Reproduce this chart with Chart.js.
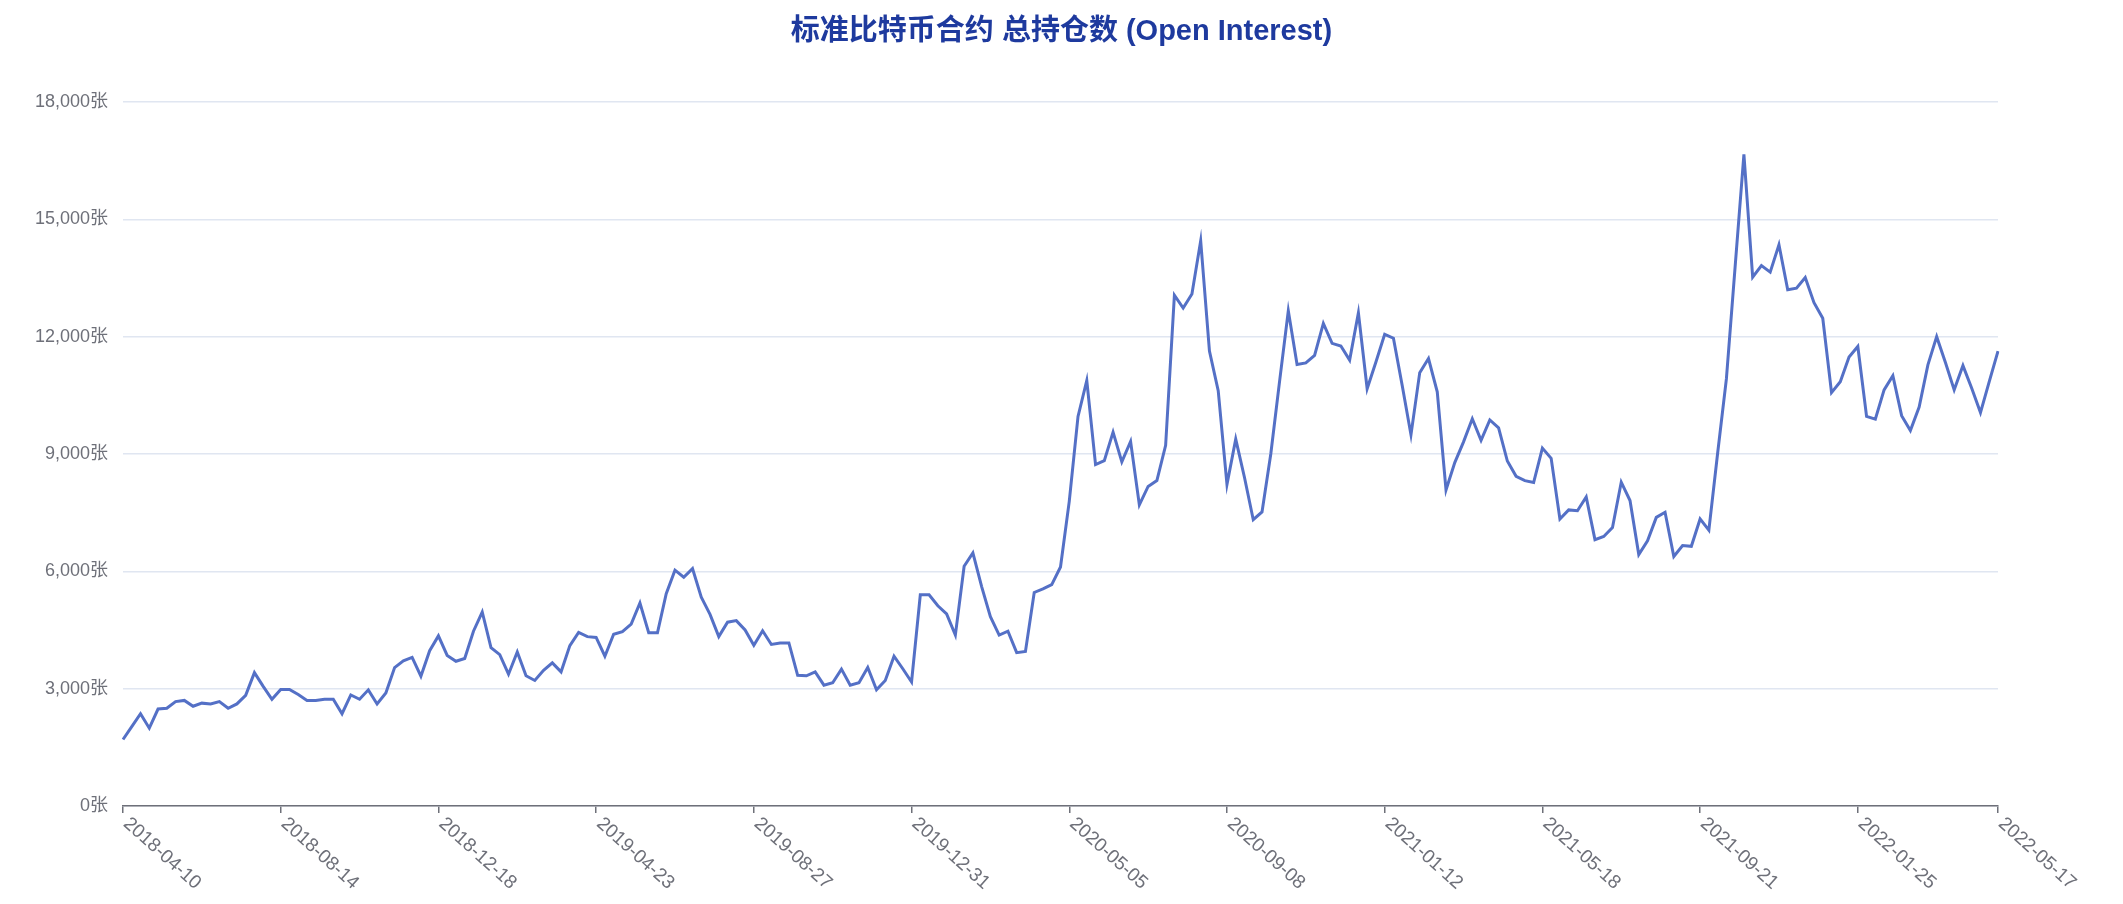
<!DOCTYPE html>
<html lang="zh-CN">
<head>
<meta charset="utf-8">
<title>标准比特币合约 总持仓数 (Open Interest)</title>
<script src="https://cdn.jsdelivr.net/npm/chart.js@4.4.1/dist/chart.umd.min.js"></script>
<style>
  html, body { margin: 0; padding: 0; background: #ffffff; }
  #wrap { width: 2123px; height: 904px; }
</style>
</head>
<body>
<div id="wrap"><canvas id="oiChart" width="2123" height="904"></canvas></div>
<script>
// 週次の日付（2018-04-10 から毎週火曜日）
const firstWeek = '2018-04-10';
const weekCount = 215;

// 横軸に表示する日付
const tickLabels = ['2018-04-10', '2018-08-14', '2018-12-18', '2019-04-23', '2019-08-27', '2019-12-31',
  '2020-05-05', '2020-09-08', '2021-01-12', '2021-05-18', '2021-09-21', '2022-01-25', '2022-05-17'];

// 総持仓数（张）年ごと
const oi2018 = [1700, 2030, 2360, 1990, 2480, 2500, 2670, 2700, 2550, 2630, 2610, 2670, 2500, 2610, 2830, 3410,
  3060, 2730, 2980, 2980, 2850, 2700, 2700, 2730, 2730, 2360, 2840, 2730, 2970, 2610, 2890, 3540, 3710, 3800,
  3320, 3970, 4350, 3850];
const oi2019 = [3700, 3770, 4470, 4960, 4050, 3870, 3370, 3940, 3330, 3210, 3470, 3660, 3430, 4100, 4440, 4330,
  4310, 3830, 4390, 4460, 4650, 5190, 4430, 4430, 5430, 6030, 5850, 6070, 5340, 4900, 4330, 4700, 4740, 4500,
  4110, 4480, 4130, 4170, 4170, 3340, 3330, 3430, 3090, 3150, 3500, 3090, 3150, 3540, 2970, 3210, 3830, 3510, 3170];
const oi2020 = [5400, 5400, 5120, 4910, 4370, 6130, 6470, 5610, 4840, 4370, 4470, 3920, 3950, 5460, 5550, 5660,
  6110, 7790, 9960, 10880, 8730, 8830, 9560, 8800, 9320, 7700, 8170, 8320, 9220, 13060, 12730, 13090, 14450,
  11630, 10620, 8220, 9380, 8400, 7320, 7520, 9000, 10850, 12660, 11290, 11330, 11520, 12340, 11830, 11760,
  11400, 12610, 10670];
const oi2021 = [11350, 12060, 11960, 10750, 9490, 11080, 11440, 10590, 8080, 8780, 9310, 9900, 9350, 9870, 9670,
  8820, 8430, 8320, 8270, 9150, 8890, 7340, 7570, 7550, 7900, 6810, 6890, 7120, 8280, 7810, 6430, 6780, 7380,
  7510, 6380, 6660, 6640, 7340, 7050, 9020, 10920, 13800, 16660, 13520, 13820, 13650, 14350, 13200, 13240,
  13510, 12870, 12470];
const oi2022 = [10570, 10850, 11480, 11750, 9960, 9890, 10640, 11000, 9980, 9600, 10200, 11280, 12000, 11340,
  10640, 11260, 10680, 10060, 10850, 11630];

const openInterest = [...oi2018, ...oi2019, ...oi2020, ...oi2021, ...oi2022];

// 日付ラベルを作る
function buildWeeks(start, n) {
    const out = [];
    const d = new Date(start + 'T00:00:00Z');
    for (let i = 0; i < n; i++) {
        out.push(d.toISOString().slice(0, 10));
        d.setUTCDate(d.getUTCDate() + 7);
    }
    return out;
}
const weeks = buildWeeks(firstWeek, weekCount);

const axisGray = '#6e7079';
const gridColor = '#e0e6f1';
const lineBlue = '#5470c6';
const fontFamily = '"Liberation Sans", "Noto Sans CJK SC", Arial, sans-serif';

// 斜めの日付ラベル（時計回り）
const slantedDates = {
    id: 'slantedDates',
    afterDraw(chart) {
        const scale = chart.scales.x;
        const ctx = chart.ctx;
        ctx.save();
        ctx.fillStyle = axisGray;
        ctx.font = '19px ' + fontFamily;
        ctx.textAlign = 'left';
        ctx.textBaseline = 'middle';
        scale.ticks.forEach((t, i) => {
            const x = scale.getPixelForTick(i);
            ctx.save();
            ctx.translate(x + 3, scale.top + 15);
            ctx.rotate(42 * Math.PI / 180);
            ctx.fillText(chart.data.labels[t.value], 0, 0);
            ctx.restore();
        });
        ctx.restore();
    }
};

new Chart(document.getElementById('oiChart').getContext('2d'), {
    type: 'line',
    data: {
        labels: weeks,
        datasets: [{
            label: '总持仓数',
            data: openInterest,
            borderColor: lineBlue,
            borderWidth: 3,
            pointRadius: 0,
            pointHoverRadius: 0,
            tension: 0,
            fill: false
        }]
    },
    options: {
        responsive: false,
        animation: false,
        devicePixelRatio: 1,
        layout: { padding: 0 },
        plugins: {
            legend: { display: false },
            tooltip: { enabled: false },
            title: {
                display: true,
                text: '标准比特币合约 总持仓数 (Open Interest)',
                color: '#1e3a9e',
                font: { family: fontFamily, size: 29, weight: 'bold' },
                padding: { top: 15, bottom: 52.2 }
            }
        },
        scales: {
            x: {
                type: 'category',
                offset: false,
                afterBuildTicks: scale => {
                    scale.ticks = scale.ticks.filter(t => tickLabels.includes(weeks[t.value]));
                },
                afterFit: scale => { scale.height = 98; },
                ticks: { display: false, autoSkip: false },
                grid: {
                    display: true,
                    drawOnChartArea: false,
                    drawTicks: true,
                    tickLength: 7,
                    color: axisGray,
                    lineWidth: 1.5
                },
                border: { display: true, color: axisGray, width: 1.5 }
            },
            y: {
                min: 0,
                max: 18000,
                afterFit: scale => { scale.width = 123; },
                ticks: {
                    stepSize: 3000,
                    color: axisGray,
                    padding: 15,
                    font: { family: fontFamily, size: 18 },
                    callback: v => v.toLocaleString('en-US') + '张'
                },
                grid: { color: gridColor, lineWidth: 1.5, drawTicks: false },
                border: { display: false }
            },
            // 右側の余白（表示なし）
            yRight: {
                position: 'right',
                afterFit: scale => { scale.width = 125; },
                ticks: { display: false },
                grid: { drawOnChartArea: false, drawTicks: false },
                border: { display: false }
            }
        }
    },
    plugins: [slantedDates]
});
</script>
</body>
</html>
